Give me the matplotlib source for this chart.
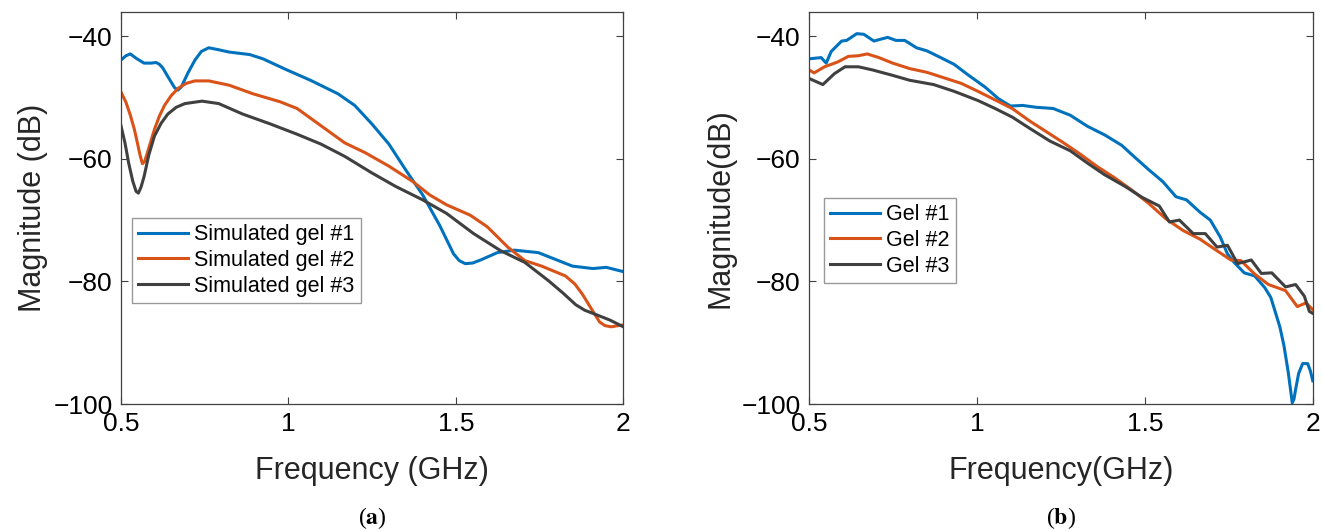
import matplotlib.pyplot as plt

plt.rcParams['font.family'] = ['Liberation Sans', 'DejaVu Sans']

# (a) simulated gels
sim_f1 = [0.5, 0.515, 0.528, 0.545, 0.569, 0.59, 0.605, 0.615, 0.625, 0.64, 0.66, 0.67, 0.68,
          0.70, 0.721, 0.74, 0.762, 0.79, 0.823, 0.884, 0.924,
          0.995, 1.066, 1.148, 1.198, 1.249, 1.30, 1.35, 1.401, 1.452, 1.493, 1.51, 1.528, 1.55,
          1.574, 1.624, 1.675, 1.746, 1.797, 1.848, 1.909, 1.949, 2.0]
sim_db1 = [-43.9, -43.2, -42.9, -43.6, -44.4, -44.4, -44.3, -44.6, -45.2, -46.6, -48.4, -48.8,
           -48.3, -46.0, -43.9, -42.5, -41.9, -42.2, -42.6, -43.0, -43.7,
           -45.5, -47.2, -49.4, -51.3, -54.3, -57.6, -61.8, -65.9, -70.9, -75.5, -76.6, -77.1,
           -77.0, -76.5, -75.3, -74.9, -75.3, -76.4, -77.5, -77.9, -77.7, -78.4]

sim_f2 = [0.5, 0.515, 0.528, 0.54, 0.549, 0.557, 0.564, 0.571, 0.579, 0.59, 0.6, 0.615, 0.63,
          0.65, 0.671, 0.695, 0.721, 0.762, 0.823, 0.894,
          0.975, 1.026, 1.097, 1.168, 1.229, 1.30, 1.371, 1.422, 1.472, 1.543, 1.594, 1.655,
          1.706, 1.756, 1.827, 1.855, 1.878, 1.905, 1.929, 1.945, 1.964, 1.985, 2.0]
sim_db2 = [-49.1, -50.8, -52.9, -55.2, -57.4, -59.4, -60.8, -60.4, -59.0, -57.0, -55.2, -53.0,
           -51.3, -49.7, -48.5, -47.7, -47.3, -47.3, -48.0, -49.4,
           -50.7, -51.8, -54.6, -57.4, -59.0, -61.2, -63.7, -65.9, -67.5, -69.2, -71.1, -74.4,
           -76.6, -77.5, -79.1, -80.4, -82.1, -84.5, -86.6, -87.2, -87.4, -87.2, -87.1]

sim_f3 = [0.5, 0.512, 0.523, 0.535, 0.545, 0.552, 0.56, 0.569, 0.583, 0.6, 0.62, 0.64, 0.665,
          0.691, 0.742, 0.792, 0.863, 0.945, 1.026,
          1.097, 1.168, 1.249, 1.32, 1.401, 1.472, 1.553, 1.634, 1.706, 1.777, 1.82, 1.858, 1.885,
          1.909, 1.96, 2.0]
sim_db3 = [-54.6, -57.4, -60.7, -63.6, -65.3, -65.6, -64.6, -62.9, -59.4, -56.3, -54.2, -52.7,
           -51.6, -51.0, -50.6, -51.0, -52.7, -54.3, -56.0,
           -57.6, -59.6, -62.3, -64.5, -66.7, -68.9, -72.2, -75.0, -76.9, -79.9, -81.9, -83.8,
           -84.7, -85.2, -86.3, -87.4]

# (b) measured gels
gel_f1 = [0.5, 0.536, 0.551, 0.566, 0.597, 0.612, 0.642, 0.663, 0.693, 0.734, 0.759, 0.785,
          0.82, 0.851, 0.892, 0.932, 0.973, 1.024, 1.064, 1.1, 1.136, 1.176, 1.227, 1.278,
          1.329, 1.38, 1.431, 1.471, 1.512, 1.553, 1.593, 1.624, 1.664, 1.695, 1.725, 1.746,
          1.766, 1.796, 1.827, 1.857, 1.875, 1.888, 1.902, 1.914, 1.927, 1.939, 1.944, 1.949,
          1.958, 1.97, 1.985, 1.993, 2.0]
gel_db1 = [-43.7, -43.5, -44.4, -42.5, -40.8, -40.7, -39.6, -39.7, -40.8, -40.2, -40.7, -40.7,
           -41.9, -42.4, -43.5, -44.6, -46.3, -48.3, -50.2, -51.4, -51.3, -51.6, -51.8, -52.9,
           -54.7, -56.1, -57.8, -59.8, -61.8, -63.7, -66.2, -66.7, -68.7, -70.0, -72.8, -75.5,
           -76.9, -78.6, -79.1, -81.0, -82.6, -84.9, -87.4, -90.4, -94.8, -99.8, -99.2, -97.6,
           -95.0, -93.4, -93.4, -94.6, -96.2]

gel_f2 = [0.5, 0.515, 0.546, 0.586, 0.617, 0.647, 0.673, 0.708, 0.749, 0.8, 0.851, 0.902,
          0.953, 1.003, 1.054, 1.105, 1.156, 1.207, 1.258, 1.309, 1.359, 1.41, 1.461, 1.512,
          1.563, 1.614, 1.664, 1.715, 1.756, 1.786, 1.827, 1.868, 1.919, 1.954, 1.98, 2.0]
gel_db2 = [-45.5, -46.0, -45.0, -44.2, -43.3, -43.2, -42.9, -43.5, -44.4, -45.3, -45.9, -46.8,
           -47.7, -49.0, -50.4, -51.8, -53.8, -55.6, -57.4, -59.3, -61.3, -63.1, -65.1, -67.3,
           -69.8, -71.7, -73.1, -75.0, -76.5, -76.6, -78.8, -80.5, -81.5, -84.1, -83.5, -84.6]

gel_f3 = [0.5, 0.541, 0.576, 0.607, 0.647, 0.688, 0.749, 0.8, 0.871, 0.932, 1.003, 1.054,
          1.105, 1.156, 1.217, 1.278, 1.329, 1.38, 1.441, 1.492, 1.543, 1.573, 1.603, 1.644,
          1.68, 1.715, 1.746, 1.776, 1.817, 1.847, 1.878, 1.919, 1.949, 1.975, 1.99, 2.0]
gel_db3 = [-46.9, -47.9, -46.1, -45.0, -45.0, -45.5, -46.4, -47.2, -47.9, -49.0, -50.5, -51.8,
           -53.2, -55.0, -57.1, -58.7, -60.7, -62.6, -64.5, -66.3, -67.7, -70.3, -70.0, -72.2,
           -72.2, -74.4, -74.1, -77.1, -76.5, -78.7, -78.6, -80.9, -80.5, -82.4, -84.9, -85.2]

colors = ['#0072BD', '#D95319', '#404040']
xticks = [0.5, 1, 1.5, 2]
yticks = [-100, -80, -60, -40]

fig = plt.figure(figsize=(13.22, 5.31), dpi=100)
ax1 = fig.add_axes([0.0915, 0.239, 0.380, 0.738])
ax2 = fig.add_axes([0.612, 0.239, 0.381, 0.738])

panels = [
    (ax1, [(sim_f1, sim_db1), (sim_f2, sim_db2), (sim_f3, sim_db3)],
     ['Simulated gel #1', 'Simulated gel #2', 'Simulated gel #3'],
     'Magnitude (dB)', 'Frequency (GHz)', (0.022, 0.258), 'a'),
    (ax2, [(gel_f1, gel_db1), (gel_f2, gel_db2), (gel_f3, gel_db3)],
     ['Gel #1', 'Gel #2', 'Gel #3'],
     'Magnitude(dB)', 'Frequency(GHz)', (0.029, 0.309), 'b'),
]

for ax, series, labels, ylab, xlab, anchor, tag in panels:
    for (f, db), c, lab in zip(series, colors, labels):
        ax.plot(f, db, color=c, linewidth=2.2, label=lab)
    ax.set_xlim(0.5, 2)
    ax.set_ylim(-100, -36.1)
    ax.set_xticks(xticks)
    ax.set_xticklabels(['0.5', '1', '1.5', '2'])
    ax.set_yticks(yticks)
    ax.set_yticklabels(['\u2212100', '\u221280', '\u221260', '\u221240'])
    ax.tick_params(direction='in', length=5, width=0.8, color='#404040',
                   labelsize=19, top=True, right=True, pad=6)
    for sp in ax.spines.values():
        sp.set_color('#404040')
        sp.set_linewidth(0.9)
    ax.set_ylabel(ylab, fontsize=22, color='#262626', labelpad=4)
    ax.set_xlabel(xlab, fontsize=22, color='#262626', labelpad=14)
    leg = ax.legend(loc='lower left', bbox_to_anchor=anchor, borderaxespad=0,
                    fontsize=15.5, fancybox=False, handlelength=2.3,
                    labelspacing=0.22, handletextpad=0.3, borderpad=0.3)
    leg.get_frame().set_edgecolor('#808080')
    leg.get_frame().set_linewidth(1.0)
    ax.text(0.5, -0.29, '(' + r'$\mathbf{' + tag + '}$' + ')', transform=ax.transAxes,
            ha='center', va='center', fontsize=17, family='Liberation Serif',
            math_fontfamily='stix')

fig.savefig('out.png', dpi=100)
